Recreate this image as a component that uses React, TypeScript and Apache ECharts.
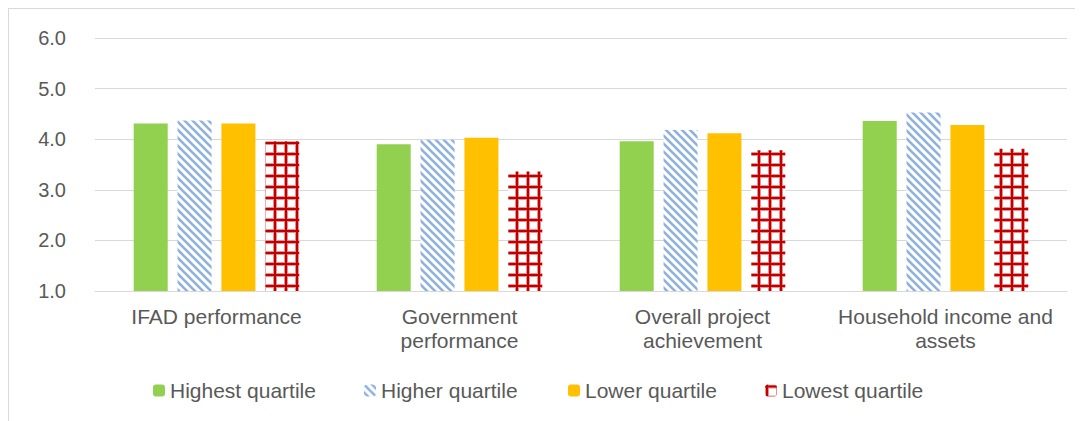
import React, { useEffect, useRef } from "react";
import * as echarts from "echarts";

const categories = [
  "IFAD performance",
  "Government\nperformance",
  "Overall project\nachievement",
  "Household income and\nassets",
];
const seriesNames = ["Highest quartile", "Higher quartile", "Lower quartile", "Lowest quartile"];
const highest = [4.31, 3.9, 3.96, 4.36];
const higher = [4.37, 3.99, 4.18, 4.53];
const lower = [4.31, 4.03, 4.12, 4.28];
const lowest = [3.96, 3.36, 3.78, 3.81];
const yTicks = [1, 2, 3, 4, 5, 6];

function stripePattern(): string {
  const c = document.createElement("canvas");
  c.width = 8;
  c.height = 8;
  const ctx = c.getContext("2d")!;
  ctx.fillStyle = "#ffffff";
  ctx.fillRect(0, 0, 8, 8);
  ctx.strokeStyle = "#8FB1DD";
  ctx.lineWidth = 2.6;
  for (const off of [-8, 0, 8]) {
    ctx.beginPath();
    ctx.moveTo(off - 2, -2);
    ctx.lineTo(off + 10, 10);
    ctx.stroke();
  }
  return c.toDataURL();
}

function gridPattern(): string {
  const c = document.createElement("canvas");
  c.width = 11;
  c.height = 11;
  const ctx = c.getContext("2d")!;
  ctx.fillStyle = "#ffffff";
  ctx.fillRect(0, 0, 11, 11);
  ctx.fillStyle = "#E59090";
  ctx.fillRect(0, 0, 4, 11);
  ctx.fillRect(0, 0, 11, 4);
  ctx.fillStyle = "#C00000";
  ctx.fillRect(1, 0, 2, 11);
  ctx.fillRect(0, 1, 11, 2);
  return c.toDataURL();
}

export default function App() {
  const ref = useRef<HTMLDivElement>(null);
  useEffect(() => {
    document.body.style.overflow = "hidden";
    const chart = echarts.init(ref.current!, undefined, { renderer: "svg" });
    const font = "Liberation Sans, Arial, sans-serif";
    const stripe = { image: stripePattern(), repeat: "repeat" };
    const grid = { image: gridPattern(), repeat: "repeat" };
    const mk = (name: string, data: number[], color: any) => ({
      name,
      type: "bar",
      data,
      barWidth: 34,
      barGap: "29%",
      itemStyle: { color },
    });
    const legendLefts = [139, 350, 554, 751];
    chart.setOption({
      animation: false,
      grid: { left: 86, right: 16, top: 29, bottom: 130 },
      legend: seriesNames.map((n, i) => ({
        left: legendLefts[i],
        top: 366,
        itemWidth: 12,
        itemHeight: 12,
        textStyle: { fontFamily: font, fontSize: 21, color: "#595959" },
        data: [n],
      })),
      xAxis: {
        type: "category",
        data: categories,
        axisLine: { lineStyle: { color: "#d9d9d9", width: 1 } },
        axisTick: { show: false },
        axisLabel: {
          fontFamily: font,
          fontSize: 21,
          color: "#595959",
          lineHeight: 24,
          margin: 13,
          interval: 0,
        },
      },
      yAxis: {
        type: "value",
        min: yTicks[0],
        max: yTicks[yTicks.length - 1],
        interval: 1,
        axisLine: { show: false },
        axisTick: { show: false },
        splitLine: { lineStyle: { color: "#d9d9d9", width: 1 } },
        axisLabel: {
          fontFamily: font,
          fontSize: 20,
          color: "#595959",
          margin: 29,
          formatter: (v: number) => v.toFixed(1),
        },
      },
      series: [
        mk(seriesNames[0], highest, "#92D050"),
        mk(seriesNames[1], higher, stripe),
        mk(seriesNames[2], lower, "#FFC000"),
        mk(seriesNames[3], lowest, grid),
      ],
    });
    return () => chart.dispose();
  }, []);
  return (
    <div
      style={{
        width: 1075,
        height: 413,
        borderTop: "1px solid #d9d9d9",
        borderLeft: "1px solid #d9d9d9",
        boxSizing: "border-box",
      }}
    >
      <div ref={ref} style={{ width: 1074, height: 412 }} />
    </div>
  );
}
